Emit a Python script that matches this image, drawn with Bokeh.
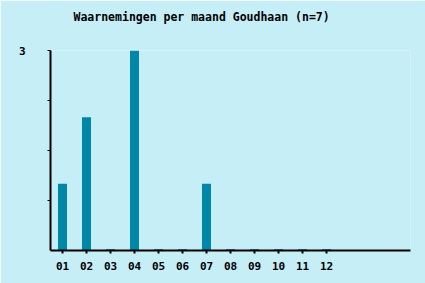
from bokeh.plotting import figure
from bokeh.models import Range1d, FixedTicker, Title
from bokeh.embed import file_html
from bokeh.resources import INLINE

months = ["01", "02", "03", "04", "05", "06", "07", "08", "09", "10", "11", "12"]
counts = [1, 2, 0, 3, 0, 0, 1, 0, 0, 0, 0, 0]
y_ticks = [0.75, 1.5, 2.25, 3]
y_labels = {0.75: "", 1.5: "", 2.25: "", 3: "3"}
title_text = "Waarnemingen per maand Goudhaan (n=7)"

xs = list(range(1, len(months) + 1))
bg = "#C6EEF7"
bar_color = "#0087A8"
font = "DejaVu Sans Mono"

p = figure(width=425, height=283, output_backend="svg", toolbar_location=None,
           x_range=Range1d(0.5, 15.5), y_range=Range1d(0, 3),
           min_border_left=50, min_border_right=15, min_border_top=50, min_border_bottom=33,
           title=title_text)
p.background_fill_color = bg
p.border_fill_color = bg
p.outline_line_color = None
p.grid.visible = False

p.title.text_font = font
p.title.text_font_size = "11.5px"
p.title.text_font_style = "bold"
p.title.align = "left"
p.title.offset = 23
p.title.vertical_align = "bottom"
p.title.text_color = "#000000"
p.title.standoff = 12

# empty spacer between title and plot area
spacer = Title(text=" ", text_font=font, text_font_size="11px", standoff=6)
p.add_layout(spacer, "above")

nz_x = [x for x, c in zip(xs, counts) if c > 0]
nz_c = [c for c in counts if c > 0]
z_x = [x for x, c in zip(xs, counts) if c == 0]

p.vbar(x=nz_x, top=nz_c, bottom=0, width=0.375, color=bar_color, line_color=None)
p.rect(x=z_x, y=[0] * len(z_x), width=0.375, height=3, height_units="screen",
       color="#1A93B2", line_color=None)

xa = p.xaxis[0]
xa.ticker = FixedTicker(ticks=xs)
xa.major_label_overrides = {x: m for x, m in zip(xs, months)}
xa.major_tick_in = 0
xa.major_tick_out = 3
xa.minor_tick_line_color = None
xa.axis_line_width = 2
xa.major_tick_line_width = 2
xa.major_label_text_font = font
xa.major_label_text_font_size = "11px"
xa.major_label_text_font_style = "bold"
xa.major_label_text_color = "#000000"
xa.major_label_standoff = 8

ya = p.yaxis[0]
ya.ticker = FixedTicker(ticks=y_ticks)
ya.major_label_overrides = y_labels
ya.major_tick_in = 0
ya.major_tick_out = 3
ya.minor_tick_line_color = None
ya.axis_line_width = 2
ya.major_tick_line_width = 1
ya.major_label_text_font = font
ya.major_label_text_font_size = "11px"
ya.major_label_text_font_style = "bold"
ya.major_label_text_color = "#000000"
ya.major_label_text_baseline = "top"
ya.major_label_standoff = 22

open("out.html", "w").write(file_html(p, INLINE))
